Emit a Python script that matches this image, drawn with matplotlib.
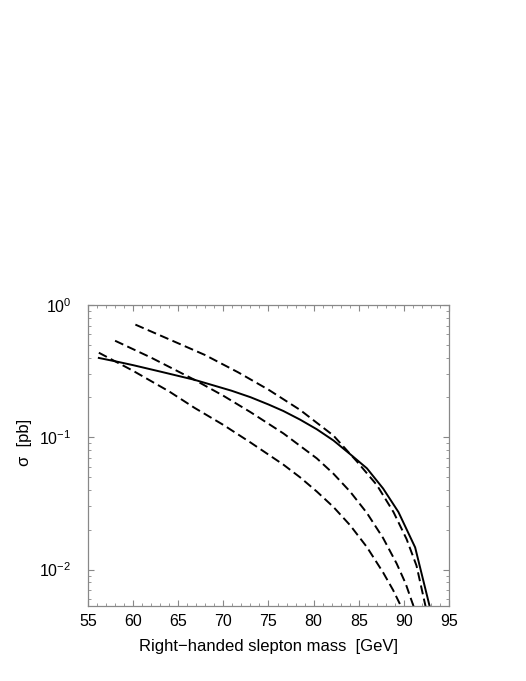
import matplotlib
matplotlib.use("Agg")
import matplotlib.pyplot as plt
from matplotlib.ticker import MultipleLocator, LogLocator, NullFormatter

plt.rcParams['font.family'] = ['Liberation Sans', 'DejaVu Sans']
plt.rcParams['mathtext.fontset'] = 'custom'
plt.rcParams['mathtext.rm'] = 'Liberation Sans'
plt.rcParams['mathtext.it'] = 'Liberation Sans:italic'
plt.rcParams['lines.scale_dashes'] = False

# Solid curve
mass_solid = [56.2, 58.3, 60.0, 63.0, 66.8, 70.9, 73.0, 75.0, 76.65, 78.5, 80.35,
              82.2, 84.05, 85.9, 87.7, 89.4, 91.25, 92.9]
sigma_solid = [0.398, 0.372, 0.351, 0.314, 0.272, 0.225, 0.201, 0.177, 0.158, 0.136, 0.115,
               0.0946, 0.0745, 0.0583, 0.0410, 0.0272, 0.0147, 0.00513]

# Dashed curves (top, middle, bottom)
mass_dash1 = [60.25, 64.24, 67.93, 71.63, 75.0, 78.5, 82.2, 84.8, 87.0, 88.85, 90.3, 91.4, 92.4]
sigma_dash1 = [0.711, 0.541, 0.420, 0.310, 0.229, 0.161, 0.103, 0.0656, 0.0436, 0.0272, 0.0170, 0.0107, 0.00528]

mass_dash2 = [58.0, 62.0, 66.8, 70.0, 73.0, 76.65, 80.35, 82.2, 84.05, 85.9, 87.7, 89.2, 90.2, 91.07]
sigma_dash2 = [0.537, 0.400, 0.272, 0.206, 0.155, 0.107, 0.0693, 0.0530, 0.0388, 0.0268, 0.0173, 0.0111, 0.00783, 0.00528]

mass_dash3 = [56.2, 60.0, 64.0, 66.8, 70.0, 73.0, 76.65, 78.5, 80.35, 82.2, 84.05, 85.9, 87.7, 88.8, 89.77]
sigma_dash3 = [0.436, 0.318, 0.222, 0.167, 0.124, 0.0914, 0.0621, 0.0498, 0.0389, 0.0297, 0.0216, 0.0148, 0.0095, 0.00701, 0.00513]

fig = plt.figure(figsize=(5.26, 6.81), dpi=100)
ax = fig.add_axes([0.1673, 0.1101, 0.6863, 0.442])

ax.plot(mass_solid, sigma_solid, color='black', lw=1.4)
for m, s in [(mass_dash1, sigma_dash1), (mass_dash2, sigma_dash2), (mass_dash3, sigma_dash3)]:
    ax.plot(m, s, color='black', lw=1.4, dashes=(6.5, 3.2))

ax.set_yscale('log')
ax.set_xlim(55, 95)
ax.set_ylim(0.0053, 1)

ax.xaxis.set_major_locator(MultipleLocator(5))
ax.xaxis.set_minor_locator(MultipleLocator(1))
ax.yaxis.set_major_locator(LogLocator(base=10))
ax.yaxis.set_minor_locator(LogLocator(base=10, subs=range(2, 10)))
ax.yaxis.set_minor_formatter(NullFormatter())

for s in ax.spines.values():
    s.set_color('#888888')
    s.set_linewidth(0.9)

ax.tick_params(which='both', direction='in', top=True, right=True, color='#888888')
ax.tick_params(which='major', length=4, width=0.8)
ax.tick_params(which='minor', length=2, width=0.6)
ax.tick_params(axis='x', labelsize=11.5, pad=6)
ax.tick_params(axis='y', labelsize=11.5, pad=12)

ax.set_xlabel('Right\u2212handed slepton mass  [GeV]', fontsize=12)
ax.xaxis.set_label_coords(0.5, -0.11)
ax.set_ylabel('\u03c3  [pb]', fontsize=12)
ax.yaxis.set_label_coords(-0.155, 0.545)

fig.savefig('out.png', dpi=100)
